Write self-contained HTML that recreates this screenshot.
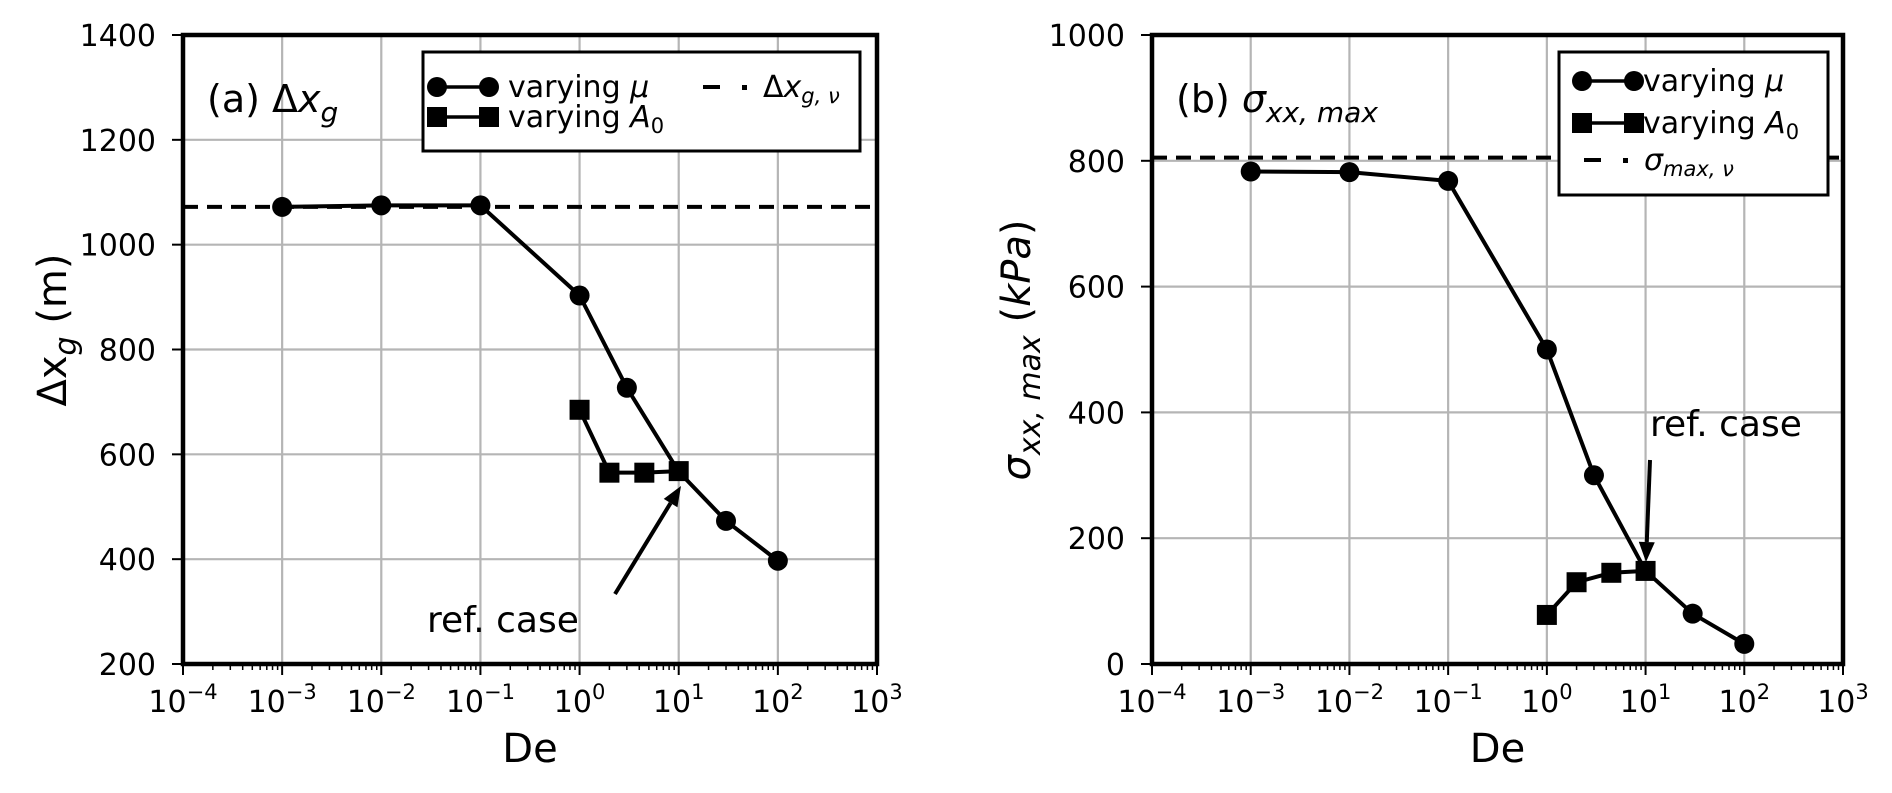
<!DOCTYPE html>
<html><head><meta charset="utf-8"><style>
html,body{margin:0;padding:0;background:#fff}
svg{display:block;font-family:"DejaVu Sans","Liberation Sans",sans-serif}
</style></head><body>
<svg id="fig" width="1892" height="793" viewBox="0 0 1892 793" xmlns="http://www.w3.org/2000/svg"></svg>
<script>
const xTickExps = [-4,-3,-2,-1,0,1,2,3];
const leftYTicks = [200,400,600,800,1000,1200,1400];
const rightYTicks = [0,200,400,600,800,1000];
const muDe = [0.001,0.01,0.1,1,3,10,30,100];
const a0De = [1,2,4.5,10];
const leftMu = [1072,1075,1075,903,727,567,473,397];
const leftA0 = [685,565,565,568];
const leftRef = 1072;
const rightMu = [783,782,768,500,300,148,80,32];
const rightA0 = [78,130,145,148];
const rightRef = 805;

const NS='http://www.w3.org/2000/svg';
const svg=document.getElementById('fig');
function el(tag,attrs,parent,text){const e=document.createElementNS(NS,tag);for(const k in attrs)e.setAttribute(k,attrs[k]);if(text!==undefined)e.innerHTML=text;(parent||svg).appendChild(e);return e;}

function panel(o){
  const g=el('g',{});
  
  
  const xs=v=>o.x0+(Math.log10(v)+4)/7*(o.x1-o.x0);
  const ys=v=>o.y1-(v-o.ymin)/(o.ymax-o.ymin)*(o.y1-o.y0);
  xTickExps.forEach(e=>{const x=xs(Math.pow(10,e));const l=el('line',{x1:x,x2:x,y1:o.y0,y2:o.y1,stroke:'#b5b5b5','stroke-width':2.2},g);});
  o.yTicks.forEach(v=>{const y=ys(v);const l=el('line',{x1:o.x0,x2:o.x1,y1:y,y2:y,stroke:'#b5b5b5','stroke-width':2.2},g);});
  const dl=el('line',{x1:o.x0,x2:o.x1,y1:ys(o.ref),y2:ys(o.ref),stroke:'#000','stroke-width':4,'stroke-dasharray':'15 9'},g);
  
  const p1=el('polyline',{points:muDe.map((d,i)=>xs(d)+','+ys(o.mu[i])).join(' '),fill:'none',stroke:'#000','stroke-width':4},g);
  
  const p2=el('polyline',{points:a0De.map((d,i)=>xs(d)+','+ys(o.a0[i])).join(' '),fill:'none',stroke:'#000','stroke-width':4},g);
  
  muDe.forEach((d,i)=>{if(d===10)return;const c=el('circle',{cx:xs(d),cy:ys(o.mu[i]),r:10,fill:'#000'},g);});
  a0De.forEach((d,i)=>{const r=el('rect',{x:xs(d)-10,y:ys(o.a0[i])-10,width:20,height:20,fill:'#000'},g);});
  const f=el('rect',{x:o.x0,y:o.y0,width:o.x1-o.x0,height:o.y1-o.y0,fill:'none',stroke:'#000','stroke-width':4.5},g);
  
  xTickExps.forEach(e=>{const x=xs(Math.pow(10,e));
    el('line',{x1:x,x2:x,y1:o.y1,y2:o.y1+11,stroke:'#000','stroke-width':2},g);
    if(e<3)for(let k=2;k<10;k++){const xm=xs(k*Math.pow(10,e));el('line',{x1:xm,x2:xm,y1:o.y1,y2:o.y1+6,stroke:'#000','stroke-width':1.5},g);}
    const t=el('text',{x:x,y:712,'text-anchor':'middle','font-size':30},g,'10<tspan dy="-13" font-size="21">'+(e<0?'\u2212'+(-e):e)+'</tspan>');
    });
  o.yTicks.forEach(v=>{const y=ys(v);
    el('line',{x1:o.x0-11,x2:o.x0,y1:y,y2:y,stroke:'#000','stroke-width':2},g);
    const t=el('text',{x:o.x0-27,y:y+11,'text-anchor':'end','font-size':30},g,v);
    });
  const xl=el('text',{x:(o.x0+o.x1)/2,y:762,'text-anchor':'middle','font-size':40},g,'De');
  
  const yl=el('text',{x:0,y:0,'text-anchor':'middle','font-size':40,transform:'translate('+o.ylx+','+o.yly+') rotate(-90)'},g,o.ylabel);
  
  const tt=el('text',{x:o.x0+24,y:112,'font-size':38},g,o.title);
  
  return {g,xs,ys};
}

const L=panel({name:'panel-a',x0:183,x1:877,y0:35,y1:664,ymin:200,ymax:1400,yTicks:leftYTicks,mu:leftMu,a0:leftA0,ref:leftRef,
  ylabel:'Δx<tspan font-style="italic" font-size="30" dy="10">g</tspan><tspan dy="-10"> (m)</tspan>',ylx:66,yly:330,
  title:'(a) Δ<tspan font-style="italic">x</tspan><tspan font-style="italic" font-size="28" dy="10">g</tspan>'});
const R=panel({name:'panel-b',x0:1152,x1:1843,y0:35,y1:664,ymin:0,ymax:1000,yTicks:rightYTicks,mu:rightMu,a0:rightA0,ref:rightRef,
  ylabel:'<tspan font-style="italic">σ</tspan><tspan font-style="italic" font-size="30" dy="10">xx, max</tspan><tspan dy="-10"> (</tspan><tspan font-style="italic">kPa</tspan>)',ylx:1030,yly:350,
  title:'(b) <tspan font-style="italic">σ</tspan><tspan font-style="italic" font-size="28" dy="10">xx, max</tspan>'});

function arrow(x1,y1,x2,y2,name){const g=el('g',{});
  const a=Math.atan2(y2-y1,x2-x1),h=20,w=8;
  const bx=x2-h*Math.cos(a),by=y2-h*Math.sin(a);
  el('line',{x1:x1,y1:y1,x2:bx,y2:by,stroke:'#000','stroke-width':4},g);
  el('polygon',{points:x2+','+y2+' '+(bx+w*Math.sin(a))+','+(by-w*Math.cos(a))+' '+(bx-w*Math.sin(a))+','+(by+w*Math.cos(a)),fill:'#000'},g);}
arrow(615,594,681,486,'ref-case-arrow-a');
arrow(1650,460,1646,562,'ref-case-arrow-b');
let t=el('text',{x:427,y:632,'font-size':36},svg,'ref. case');
t=el('text',{x:1650,y:436,'font-size':36},svg,'ref. case');

function legend(x,y,w,h,rows,name){const g=el('g',{});
  el('rect',{x:x,y:y,width:w,height:h,fill:'#fff',stroke:'#000','stroke-width':3},g);
  rows.forEach(r=>{const e=el('g',{},g);
    if(r.type==='dash'){el('line',{x1:r.mx,x2:r.mx+17,y1:r.y,y2:r.y,stroke:'#000','stroke-width':4},e);el('rect',{x:r.mx+39,y:r.y-2,width:5,height:5,fill:'#000'},e);}
    else{el('line',{x1:r.mx,x2:r.mx+52,y1:r.y,y2:r.y,stroke:'#000','stroke-width':3.5},e);
      [r.mx,r.mx+52].forEach(cx=>{if(r.type==='c')el('circle',{cx:cx,cy:r.y,r:10,fill:'#000'},e);else el('rect',{x:cx-10,y:r.y-10,width:20,height:20,fill:'#000'},e);});}
    el('text',{x:r.tx,y:r.y+10,'font-size':r.fs||30},e,r.label);});}
legend(423,52,437,99,[
  {type:'c',mx:437,y:87,tx:508,label:'varying <tspan font-style="italic">μ</tspan>'},
  {type:'s',mx:437,y:117,tx:508,label:'varying <tspan font-style="italic">A</tspan><tspan font-size="21" dy="6">0</tspan>'},
  {type:'dash',mx:703,y:87,tx:763,label:'Δ<tspan font-style="italic">x</tspan><tspan font-style="italic" font-size="21" dy="6">g, ν</tspan>'}],'legend-a');
legend(1559,52,269,143,[
  {type:'c',mx:1582,y:81,tx:1643,label:'varying <tspan font-style="italic">μ</tspan>'},
  {type:'s',mx:1582,y:123,tx:1643,label:'varying <tspan font-style="italic">A</tspan><tspan font-size="21" dy="6">0</tspan>'},
  {type:'dash',mx:1584,y:160,tx:1644,label:'<tspan font-style="italic">σ</tspan><tspan font-style="italic" font-size="21" dy="6">max, ν</tspan>'}],'legend-b');
</script>
</body></html>
